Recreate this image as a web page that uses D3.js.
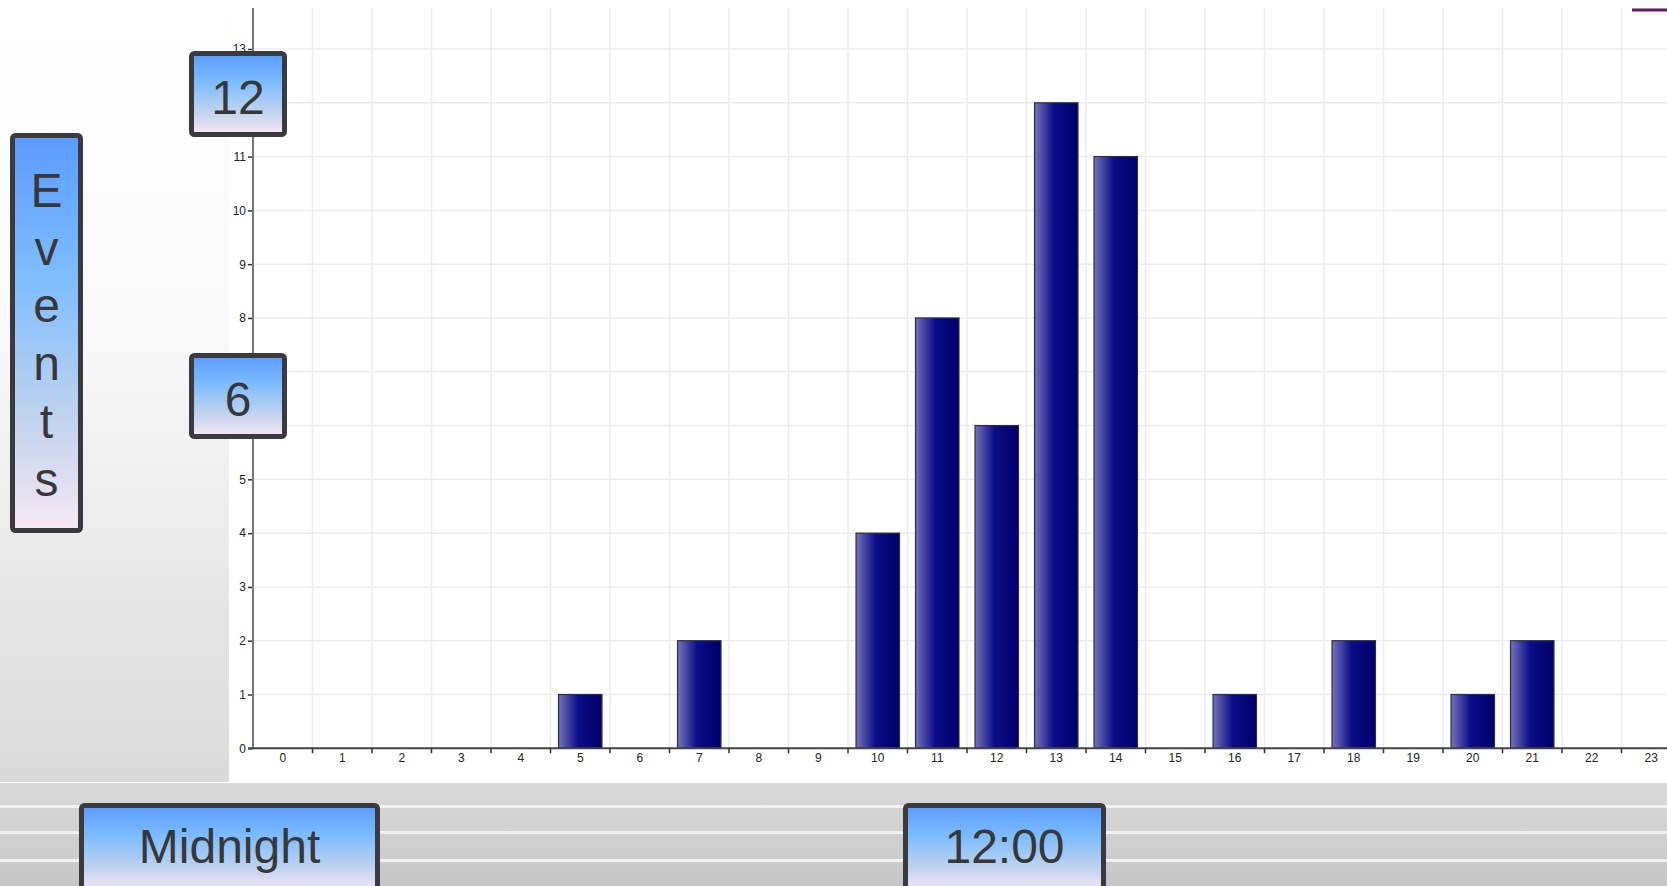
<!DOCTYPE html>
<html>
<head>
<meta charset="utf-8">
<script src="https://cdn.jsdelivr.net/npm/d3@7"></script>
<style>
  html, body { margin: 0; padding: 0; background: #ffffff; overflow: hidden; }
  svg { display: block; }
</style>
</head>
<body>
<svg id="chart" width="1667" height="886"></svg>
<script>
// ---- data ----
const hours = ["0","1","2","3","4","5","6","7","8","9","10","11","12","13","14","15","16","17","18","19","20","21","22","23"];
const events = [0,0,0,0,0,1,0,2,0,0,4,8,6,12,11,0,1,0,2,0,1,2,0,0];
const yTickValues = [0,1,2,3,4,5,6,7,8,9,10,11,12,13];
const yAxisTitle = "Events";
const yCallouts = ["12", "6"];
const xCallouts = ["Midnight", "12:00"];

// ---- layout ----
const W = 1667, H = 886;
const plotLeft = 253, plotTop = 8, plotBottom = 748.3;
const step = 59.5;
const svg = d3.select("#chart");
const defs = svg.append("defs");

function linGrad(id, stops, horizontal) {
  const g = defs.append("linearGradient").attr("id", id)
    .attr("x1", 0).attr("y1", 0)
    .attr("x2", horizontal ? 1 : 0).attr("y2", horizontal ? 0 : 1);
  stops.forEach(s => g.append("stop").attr("offset", s[0]).attr("stop-color", s[1]));
}
linGrad("leftPanel", [[0, "#ffffff"], [0.45, "#f8f8f8"], [1, "#d9d9d9"]]);
linGrad("bottomBand", [[0, "#dadada"], [1, "#c6c6c6"]]);
linGrad("boxFill", [[0, "#5a9bff"], [0.35, "#7cbcff"], [0.7, "#bdd2ee"], [1, "#f8e8f4"]]);
linGrad("barFill", [[0, "#7474ba"], [0.45, "#0c0c88"], [1, "#00006a"]], true);

// backgrounds
svg.append("rect").attr("x", 0).attr("y", 0).attr("width", W).attr("height", H).attr("fill", "#ffffff");
svg.append("rect").attr("x", 0).attr("y", 0).attr("width", 229).attr("height", 782).attr("fill", "url(#leftPanel)");
svg.append("rect").attr("x", 0).attr("y", 783).attr("width", W).attr("height", H - 783).attr("fill", "url(#bottomBand)");
[805, 831, 859].forEach(yy => {
  svg.append("rect").attr("x", 0).attr("y", yy).attr("width", W).attr("height", 3).attr("fill", "#f1f1f1");
});

// ---- scales ----
const x = d3.scaleBand().domain(hours).range([plotLeft, plotLeft + step * hours.length]).padding(0);
const xBar = d3.scaleBand().domain(hours).range([plotLeft, plotLeft + step * hours.length])
  .paddingInner(0.27).paddingOuter(0.135);
const y = d3.scaleLinear().domain([0, 13]).range([plotBottom, 49]);

// grid
const grid = svg.append("g");
hours.forEach((h, i) => {
  if (i === 0) return;
  grid.append("line").attr("x1", x(h)).attr("x2", x(h)).attr("y1", plotTop).attr("y2", plotBottom)
    .attr("stroke", "#ececec").attr("stroke-width", 1.5);
});
yTickValues.forEach(v => {
  if (v === 0) return;
  grid.append("line").attr("x1", plotLeft).attr("x2", W).attr("y1", y(v)).attr("y2", y(v))
    .attr("stroke", "#ececec").attr("stroke-width", 1.5);
});

// bars
const data = hours.map((h, i) => ({ h, v: events[i] })).filter(d => d.v > 0);
svg.append("g").selectAll("rect").data(data).join("rect")
  .attr("x", d => xBar(d.h))
  .attr("y", d => y(d.v))
  .attr("width", xBar.bandwidth())
  .attr("height", d => y(0) - y(d.v))
  .attr("fill", "url(#barFill)")
  .attr("stroke", "#2c2c44")
  .attr("stroke-width", 1.2);

// y axis
const yAxis = svg.append("g").attr("transform", `translate(${plotLeft},0)`)
  .call(d3.axisLeft(y).tickValues(yTickValues).tickSize(5).tickPadding(2).tickFormat(d3.format("d")));
yAxis.select(".domain").remove();
yAxis.selectAll(".tick line").attr("stroke", "#333").attr("stroke-width", 1.5);
yAxis.selectAll(".tick text").attr("fill", "#222")
  .style("font-family", "'Liberation Sans Narrow', 'Liberation Sans', Arial, sans-serif").style("font-size", "12px");
svg.append("line").attr("x1", plotLeft).attr("x2", plotLeft).attr("y1", plotTop).attr("y2", plotBottom + 1)
  .attr("stroke", "#777").attr("stroke-width", 2);

// x axis
const xAxis = svg.append("g").attr("transform", `translate(0,${plotBottom})`)
  .call(d3.axisBottom(x).tickSize(0).tickPadding(5));
xAxis.select(".domain").remove();
xAxis.selectAll(".tick text").attr("fill", "#222")
  .style("font-family", "'Liberation Sans Narrow', 'Liberation Sans', Arial, sans-serif").style("font-size", "12px");
svg.append("line").attr("x1", plotLeft - 5).attr("x2", W).attr("y1", plotBottom).attr("y2", plotBottom)
  .attr("stroke", "#444").attr("stroke-width", 2);
hours.forEach((h, i) => {
  if (i === 0) return;
  svg.append("line").attr("x1", x(h)).attr("x2", x(h)).attr("y1", plotBottom).attr("y2", plotBottom + 5)
    .attr("stroke", "#333").attr("stroke-width", 1.5);
});

// legend stub top-right
svg.append("line").attr("x1", 1632).attr("x2", W).attr("y1", 10).attr("y2", 10)
  .attr("stroke", "#5e1a62").attr("stroke-width", 3);

// ---- callout boxes ----
const font = "'Liberation Sans', Arial, Helvetica, sans-serif";
function box(x0, y0, x1, y1) {
  svg.append("rect").attr("x", x0 + 2.5).attr("y", y0 + 2.5)
    .attr("width", x1 - x0 - 5).attr("height", y1 - y0 - 5)
    .attr("rx", 3).attr("fill", "url(#boxFill)")
    .attr("stroke", "#3b3b3f").attr("stroke-width", 5);
}
function label(txt, cx, baseline, size) {
  svg.append("text").attr("x", cx).attr("y", baseline).attr("text-anchor", "middle")
    .attr("fill", "#38383a").style("font-family", font).style("font-size", size + "px").text(txt);
}

// y callouts
box(189, 51, 287, 137); label(yCallouts[0], 238, 113.5, 48);
box(189, 353, 287, 439); label(yCallouts[1], 238, 416, 48);

// vertical axis title
box(10, 133, 83, 533);
const titleText = svg.append("text").attr("text-anchor", "middle").attr("fill", "#38383a")
  .style("font-family", font).style("font-size", "48px");
yAxisTitle.split("").forEach((ch, i) => {
  titleText.append("tspan").attr("x", 46.5).attr("y", 206.7 + i * 57.8).text(ch);
});

// x callouts
box(79, 803, 380, 895); label(xCallouts[0], 229.5, 863, 48);
box(903, 803, 1106, 895); label(xCallouts[1], 1004.5, 863, 48);
</script>
</body>
</html>
